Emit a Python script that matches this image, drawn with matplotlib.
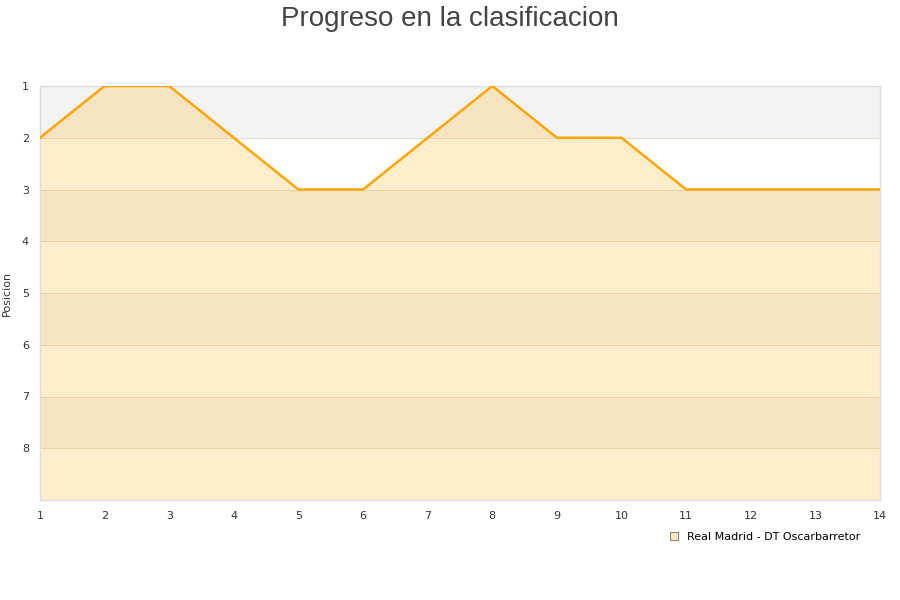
import matplotlib
matplotlib.use('Agg')
import matplotlib.pyplot as plt
from matplotlib.patches import Patch

# Datos de la grafica
jornadas = list(range(1, 15))
posiciones = [2, 1, 1, 2, 3, 3, 2, 1, 2, 2, 3, 3, 3, 3]
equipo = 'Real Madrid - DT Oscarbarretor'
titulo = 'Progreso en la clasificacion'
etiquetas_y = [1, 2, 3, 4, 5, 6, 7, 8]
fondo_max = 9

fig = plt.figure(figsize=(9, 6), dpi=100)
ax = fig.add_axes([40 / 900, 1 - 500 / 600, 840 / 900, 414 / 600])

# Bandas alternas de fondo
for i in range(1, fondo_max):
    if i % 2 == 1:
        ax.axhspan(i, i + 1, color='#f3f3f3', zorder=0, lw=0)
    ax.axhline(i, color='#e6dccb', lw=0.7, zorder=1)

# Area bajo la linea
ax.fill_between(jornadas, posiciones, fondo_max, color='#ffa500', alpha=0.2, lw=0, zorder=2)
ax.plot(jornadas, posiciones, color='#ffa500', lw=1.8, zorder=3)

ax.set_xlim(1, 14)
ax.set_ylim(fondo_max, 1)
ax.set_xticks(jornadas)
ax.set_yticks(etiquetas_y)
ax.tick_params(length=0, labelsize=8, colors='#333333', pad=8)
for s in ax.spines.values():
    s.set_color('#dddddd')
    s.set_linewidth(1)
ax.set_ylabel('Posicion', fontsize=8, color='#333333')
ax.yaxis.set_label_coords(-0.034, 0.5)

fig.suptitle(titulo, fontsize=20, color='#444444', y=0.99, family='Liberation Sans')

handle = Patch(facecolor='#ffe8c0', edgecolor='#888888', lw=0.8)
fig.legend([handle], [equipo], loc='center left', bbox_to_anchor=(660 / 900, 1 - 537 / 600),
           frameon=False, fontsize=8, handlelength=0.7, handleheight=0.7, handletextpad=0.8)

fig.savefig('out.png', dpi=100)
